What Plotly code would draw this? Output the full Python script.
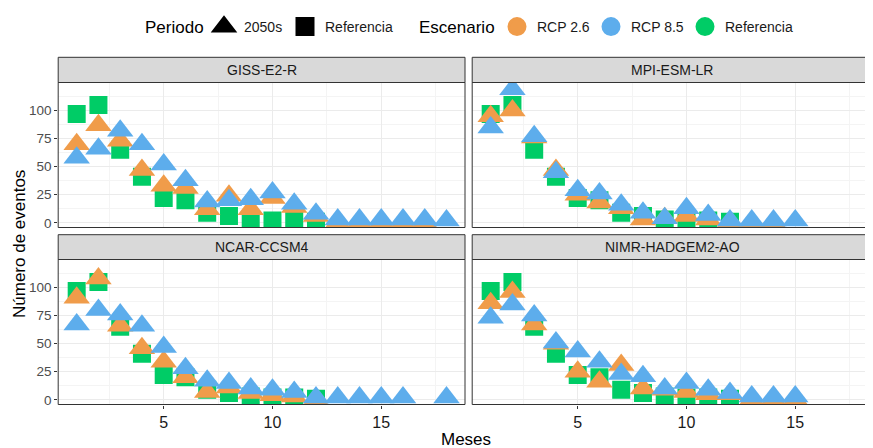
import plotly.graph_objects as go

# The page body has an 8px margin, so the figure is drawn 8px in from the
# top-left corner of the 873x448 window; size it to fill the rest.
OFF = 8
W, H = 873 - OFF, 448 - OFF

# ---------------- data ----------------
panels = ["GISS-E2-R", "MPI-ESM-LR", "NCAR-CCSM4", "NIMR-HADGEM2-AO"]

ref_months = list(range(1, 13))
ref_values = [97, 105, 65, 41, 22, 20, 9, 6, 3, 2, 2, 1]

giss_rcp26_months = list(range(1, 18))
giss_rcp26 = [70, 87, 73, 47, 33, 31, 12, 24, 12, 22, 14, 6, 0, 0, 0, 0, 0]
giss_rcp85_months = list(range(1, 19))
giss_rcp85 = [58, 66, 82, 70, 52, 38, 19, 20, 21, 27, 17, 8, 3, 3, 3, 3, 3, 2]

mpi_rcp26_months = list(range(1, 15))
mpi_rcp26 = [95, 100, 76, 47, 25, 18, 13, 3, 4, 6, 3, 1, 0, 0]
mpi_rcp85_months = list(range(1, 16))
mpi_rcp85 = [85, 119, 77, 45, 29, 26, 16, 9, 4, 13, 7, 2, 2, 2, 2]

ncar_rcp26_months = list(range(1, 13))
ncar_rcp26 = [91, 108, 66, 46, 34, 20, 7, 11, 6, 4, 3, 0]
ncar_rcp85_months = [1, 2, 3, 4, 5, 6, 7, 8, 9, 10, 11, 12, 13, 14, 15, 16, 18]
ncar_rcp85 = [67, 80, 76, 66, 47, 28, 17, 15, 10, 9, 7, 2, 2, 2, 2, 2, 2]

nimr_rcp26_months = list(range(1, 16))
nimr_rcp26 = [86, 96, 67, 50, 25, 16, 31, 10, 9, 7, 5, 5, 0, 0, 0]
nimr_rcp85_months = list(range(1, 16))
nimr_rcp85 = [73, 85, 75, 51, 43, 34, 23, 21, 10, 15, 9, 6, 3, 3, 3]

x_ticks = [5, 10, 15]
y_ticks = [0, 25, 50, 75, 100]

series = {
    "GISS-E2-R": [(giss_rcp26_months, giss_rcp26), (giss_rcp85_months, giss_rcp85)],
    "MPI-ESM-LR": [(mpi_rcp26_months, mpi_rcp26), (mpi_rcp85_months, mpi_rcp85)],
    "NCAR-CCSM4": [(ncar_rcp26_months, ncar_rcp26), (ncar_rcp85_months, ncar_rcp85)],
    "NIMR-HADGEM2-AO": [(nimr_rcp26_months, nimr_rcp26), (nimr_rcp85_months, nimr_rcp85)],
}

# ---------------- style ----------------
C26 = "#F09C4A"
C85 = "#5DADEC"
CREF = "#00CC66"
FONT = "Liberation Sans, Arial, sans-serif"
TRI = 23
SQ = 18

def px(x):
    # window pixel -> paper fraction
    return (x - OFF) / W

def py(y):
    return 1 - (y - OFF) / H

# panel pixel boxes in window coordinates (left, right), (top, bottom)
LEFT = (58.2, 465.0)
RIGHT = (472.2, 872.5)
TOP = (82.5, 227.5)
BOT = (259.5, 404.5)
boxes = [(LEFT, TOP), (RIGHT, TOP), (LEFT, BOT), (RIGHT, BOT)]
strips = [(57.3, 82.5), (57.3, 82.5), (234.7, 259.5), (234.7, 259.5)]

XR_LEFT = [0.15, 18.85]
XR_RIGHT = [0.15, 0.15 + (RIGHT[1] - RIGHT[0]) / ((LEFT[1] - LEFT[0]) / 18.7)]
YR = [-4.2, 125]

fig = go.Figure()
layout = {}
shapes = []
annotations = []

for i, name in enumerate(panels):
    k = "" if i == 0 else str(i + 1)
    xa, ya = "x" + k, "y" + k
    (xl, xr), (yt, yb) = boxes[i]
    is_left = i in (0, 2)
    is_bottom = i in (2, 3)

    fig.add_trace(go.Scatter(
        x=ref_months, y=ref_values, xaxis=xa, yaxis=ya, mode="markers",
        marker=dict(symbol="square", size=SQ, color=CREF, line=dict(width=0)),
        showlegend=False, hoverinfo="x+y"))
    (m26, v26), (m85, v85) = series[name]
    fig.add_trace(go.Scatter(
        x=m26, y=v26, xaxis=xa, yaxis=ya, mode="markers",
        marker=dict(symbol="triangle-up", size=TRI, color=C26, line=dict(width=0)),
        showlegend=False, hoverinfo="x+y"))
    fig.add_trace(go.Scatter(
        x=m85, y=v85, xaxis=xa, yaxis=ya, mode="markers",
        marker=dict(symbol="triangle-up", size=TRI, color=C85, line=dict(width=0)),
        showlegend=False, hoverinfo="x+y"))

    layout["xaxis" + k] = dict(
        domain=[px(xl), min(1, px(xr))], anchor=ya, automargin=False,
        range=XR_LEFT if is_left else XR_RIGHT,
        tickvals=x_ticks, showticklabels=is_bottom,
        ticks="outside" if is_bottom else "", ticklen=3, tickwidth=1, tickcolor="#333333",
        tickfont=dict(size=16, color="#1A1A1A", family=FONT),
        showgrid=True, gridcolor="#EBEBEB", gridwidth=1,
        minor=dict(dtick=2.5, tick0=0, showgrid=True, gridcolor="#F4F4F4", gridwidth=0.6),
        zeroline=False, showline=False, fixedrange=True,
    )
    layout["yaxis" + k] = dict(
        domain=[py(yb), py(yt)], anchor=xa, automargin=False,
        range=YR, tickvals=y_ticks, showticklabels=is_left,
        ticks="outside" if is_left else "", ticklen=3, tickwidth=1, tickcolor="#333333",
        tickfont=dict(size=13.5, color="#4D4D4D", family=FONT),
        showgrid=True, gridcolor="#EBEBEB", gridwidth=1,
        minor=dict(dtick=12.5, tick0=0, showgrid=True, gridcolor="#F4F4F4", gridwidth=0.6),
        zeroline=False, showline=False, fixedrange=True,
    )

    # panel border
    shapes.append(dict(type="rect", xref=xa + " domain", yref=ya + " domain",
                       x0=0, x1=1, y0=0, y1=1, line=dict(color="#333333", width=1),
                       fillcolor="rgba(0,0,0,0)", layer="above"))
    # strip
    st, sb = strips[i]
    shapes.append(dict(type="rect", xref="paper", yref="paper",
                       x0=px(xl), x1=min(1, px(xr)), y0=py(sb), y1=py(st),
                       line=dict(color="#333333", width=1), fillcolor="#D9D9D9", layer="above"))
    annotations.append(dict(text=name, xref="paper", yref="paper",
                            x=px((xl + xr) / 2), y=py((st + sb) / 2),
                            xanchor="center", yanchor="middle", showarrow=False,
                            font=dict(size=14, color="#1A1A1A", family=FONT)))

# axis titles
annotations.append(dict(text="Meses", xref="paper", yref="paper", x=px(466), y=py(439),
                        xanchor="center", yanchor="middle", showarrow=False,
                        font=dict(size=17, color="#000000", family=FONT)))
annotations.append(dict(text="Número de eventos", xref="paper", yref="paper", x=px(19), y=py(244),
                        xanchor="center", yanchor="middle", showarrow=False, textangle=-90,
                        font=dict(size=17, color="#000000", family=FONT)))

# legend titles
LEG_Y = 27
annotations.append(dict(text="Periodo", xref="paper", yref="paper", x=px(143), y=py(LEG_Y),
                        xanchor="left", yanchor="middle", showarrow=False,
                        font=dict(size=17, color="#000000", family=FONT)))
annotations.append(dict(text="Escenario", xref="paper", yref="paper", x=px(417), y=py(LEG_Y),
                        xanchor="left", yanchor="middle", showarrow=False,
                        font=dict(size=17, color="#000000", family=FONT)))

# legend-only traces (one legend per key so each sits where the reference has it)
legend_items = [
    ("2050s", "triangle-up", "black", 4, "legend", 224),
    ("Referencia", "square", "black", 3, "legend2", 305),
    ("RCP 2.6", "circle", C26, 3, "legend3", 517),
    ("RCP 8.5", "circle", C85, 3, "legend4", 611),
    ("Referencia", "circle", CREF, 3, "legend5", 705),
]
legend_layout = {}
for name, sym, col, lw, leg, cx in legend_items:
    fig.add_trace(go.Scatter(x=[None], y=[None], mode="markers", name=name, legend=leg,
                             marker=dict(symbol=sym, size=16, color=col,
                                         line=dict(width=lw, color=col))))
    legend_layout[leg] = dict(orientation="h", yanchor="middle", y=py(LEG_Y),
                              xanchor="left", x=px(cx - 20),
                              font=dict(size=14, color="#1A1A1A", family=FONT),
                              bgcolor="rgba(0,0,0,0)", borderwidth=0, itemsizing="trace")

fig.update_layout(
    width=W, height=H, autosize=False,
    margin=dict(l=0, r=0, t=0, b=0, autoexpand=False),
    paper_bgcolor="white", plot_bgcolor="white",
    font=dict(family=FONT),
    showlegend=True,
    shapes=shapes, annotations=annotations,
    **legend_layout,
    **layout,
)

fig.write_html("out.html")
